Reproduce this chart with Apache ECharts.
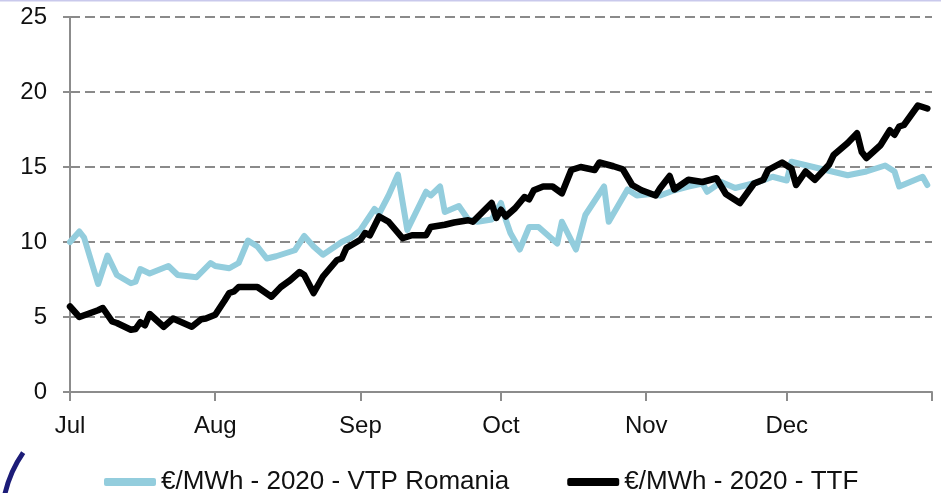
<!DOCTYPE html>
<html>
<head>
<meta charset="utf-8">
<style>
  html, body { margin: 0; padding: 0; background: #fff; }
  #chart { width: 941px; height: 493px; }
</style>
<script src="https://cdn.jsdelivr.net/npm/echarts@6/dist/echarts.min.js"></script>
</head>
<body>
<div id="chart"></div>
<script>
  // series names
  const vtpName = '€/MWh - 2020 - VTP Romania'
  const ttfName = '€/MWh - 2020 - TTF'

  // VTP Romania
  const vtpDates = ['2020-07-01','2020-07-03','2020-07-04','2020-07-07','2020-07-09','2020-07-11','2020-07-14','2020-07-15',
    '2020-07-16','2020-07-18','2020-07-22','2020-07-24','2020-07-28','2020-07-31','2020-08-01','2020-08-04','2020-08-06',
    '2020-08-08','2020-08-10','2020-08-12','2020-08-14','2020-08-18','2020-08-20','2020-08-22','2020-08-24','2020-08-28',
    '2020-08-30','2020-09-01','2020-09-04','2020-09-05','2020-09-07','2020-09-09','2020-09-11','2020-09-15','2020-09-16',
    '2020-09-18','2020-09-19','2020-09-22','2020-09-24','2020-09-26','2020-09-29','2020-10-01','2020-10-02','2020-10-03',
    '2020-10-05','2020-10-07','2020-10-09','2020-10-13','2020-10-14','2020-10-17','2020-10-19','2020-10-23','2020-10-24',
    '2020-10-28','2020-10-30','2020-11-02','2020-11-04','2020-11-07','2020-11-10','2020-11-13','2020-11-14','2020-11-17',
    '2020-11-20','2020-11-25','2020-11-28','2020-12-01','2020-12-02','2020-12-08','2020-12-14','2020-12-18','2020-12-22',
    '2020-12-24','2020-12-25','2020-12-30','2020-12-31']
  const vtpValues = [10.0, 10.7, 10.3, 7.2, 9.1, 7.8, 7.25, 7.35,
    8.2, 7.9, 8.4, 7.8, 7.65, 8.6, 8.4, 8.25, 8.6,
    10.1, 9.7, 8.9, 9.05, 9.45, 10.4, 9.7, 9.15, 10.0,
    10.3, 10.8, 12.2, 11.9, 13.1, 14.5, 10.8, 13.35, 13.1,
    13.7, 12.0, 12.4, 11.5, 11.35, 11.5, 12.6, 11.5, 10.6,
    9.5, 11.0, 11.0, 9.9, 11.35, 9.5, 11.8, 13.7, 11.35,
    13.5, 13.1, 13.2, 13.1, 13.45, 13.7, 13.9, 13.35, 14.0,
    13.6, 14.0, 14.35, 14.1, 15.35, 14.9, 14.45, 14.7, 15.1,
    14.7, 13.7, 14.35, 13.8]

  // TTF
  const ttfDates = ['2020-07-01','2020-07-03','2020-07-07','2020-07-08','2020-07-10','2020-07-11','2020-07-14','2020-07-15',
    '2020-07-16','2020-07-17','2020-07-18','2020-07-21','2020-07-23','2020-07-27','2020-07-29','2020-07-30','2020-08-01',
    '2020-08-03','2020-08-04','2020-08-05','2020-08-06','2020-08-10','2020-08-13','2020-08-15','2020-08-17','2020-08-19',
    '2020-08-20','2020-08-22','2020-08-24','2020-08-27','2020-08-28','2020-08-29','2020-09-01','2020-09-02','2020-09-03',
    '2020-09-05','2020-09-07','2020-09-10','2020-09-12','2020-09-15','2020-09-16','2020-09-19','2020-09-21','2020-09-24',
    '2020-09-25','2020-09-29','2020-09-30','2020-10-01','2020-10-02','2020-10-04','2020-10-06','2020-10-07','2020-10-08',
    '2020-10-10','2020-10-12','2020-10-14','2020-10-16','2020-10-18','2020-10-21','2020-10-22','2020-10-25','2020-10-27',
    '2020-10-29','2020-10-31','2020-11-03','2020-11-04','2020-11-06','2020-11-07','2020-11-10','2020-11-13','2020-11-16',
    '2020-11-18','2020-11-21','2020-11-24','2020-11-26','2020-11-27','2020-11-30','2020-12-02','2020-12-03','2020-12-05',
    '2020-12-07','2020-12-10','2020-12-11','2020-12-14','2020-12-16','2020-12-17','2020-12-18','2020-12-21','2020-12-23',
    '2020-12-24','2020-12-25','2020-12-26','2020-12-29','2020-12-30','2020-12-31']
  const ttfValues = [5.7, 5.0, 5.45, 5.6, 4.7, 4.6, 4.15, 4.2,
    4.65, 4.45, 5.2, 4.35, 4.9, 4.35, 4.85, 4.9, 5.15,
    6.1, 6.6, 6.7, 7.0, 7.0, 6.35, 7.0, 7.45, 8.0,
    7.8, 6.6, 7.7, 8.8, 8.9, 9.6, 10.15, 10.6, 10.45,
    11.7, 11.35, 10.25, 10.45, 10.45, 11.0, 11.15, 11.3, 11.45,
    11.35, 12.6, 11.6, 12.15, 11.7, 12.25, 13.0, 12.85, 13.45,
    13.7, 13.7, 13.25, 14.8, 15.0, 14.8, 15.3, 15.05, 14.85,
    13.8, 13.45, 13.1, 13.6, 14.4, 13.5, 14.15, 14.0, 14.25,
    13.2, 12.6, 13.9, 14.15, 14.8, 15.3, 14.9, 13.8, 14.7,
    14.15, 15.15, 15.8, 16.6, 17.25, 16.0, 15.6, 16.45, 17.45,
    17.15, 17.7, 17.8, 19.1, 19.0, 18.9]

  // axis ticks / labels
  const monthStarts = ['2020-07-01','2020-08-01','2020-09-01','2020-10-01','2020-11-01','2020-12-01','2021-01-01']
  const monthLabels = ['Jul','Aug','Sep','Oct','Nov','Dec']
  const yTicks = [0, 5, 10, 15, 20, 25]

  const toTime = function(s) {
    const p = s.split('-')
    return Date.UTC(+p[0], +p[1] - 1, +p[2])
  }
  const pairs = function(dates, values) {
    return dates.map(function(d, i) { return [toTime(d), values[i]] })
  }
  const tickTimes = monthStarts.map(toTime)
  const labelTimes = tickTimes.slice(0, monthLabels.length)

  const font = "'Liberation Sans', Arial, sans-serif"
  const axisGrey = '#8c8c8c'

  const chart = echarts.init(document.getElementById('chart'), null, { renderer: 'canvas' })
  chart.setOption({
    animation: false,
    textStyle: { fontFamily: font },
    grid: { left: 70, right: 9, top: 17, bottom: 101, containLabel: false },
    legend: {
      left: 99,
      top: 464,
      icon: 'roundRect',
      itemWidth: 52,
      itemHeight: 8,
      itemGap: 58,
      textStyle: { fontFamily: font, fontSize: 26, color: '#111' },
      data: [vtpName, ttfName]
    },
    xAxis: {
      type: 'value',
      min: tickTimes[0],
      max: tickTimes[tickTimes.length - 1],
      axisLine: { lineStyle: { color: axisGrey, width: 2 } },
      axisTick: { show: true, length: 9, lineStyle: { color: axisGrey, width: 2 }, customValues: tickTimes },
      axisLabel: {
        customValues: labelTimes,
        margin: 22,
        fontSize: 24,
        color: '#111',
        fontFamily: font,
        formatter: function(v) {
          const i = labelTimes.indexOf(v)
          return i >= 0 ? monthLabels[i] : ''
        }
      },
      splitLine: { show: false }
    },
    yAxis: {
      type: 'value',
      min: yTicks[0],
      max: yTicks[yTicks.length - 1],
      interval: 5,
      axisLine: { show: true, lineStyle: { color: axisGrey, width: 2 } },
      axisTick: { show: true, length: 7, lineStyle: { color: axisGrey, width: 2 } },
      axisLabel: { margin: 23, fontSize: 24, color: '#111', fontFamily: font },
      splitLine: { lineStyle: { color: '#8a8a8a', width: 2, type: [10, 5] } }
    },
    series: [
      {
        name: vtpName,
        type: 'line',
        showSymbol: false,
        color: '#93cddd',
        lineStyle: { width: 6, join: 'round', cap: 'round' },
        data: pairs(vtpDates, vtpValues)
      },
      {
        name: ttfName,
        type: 'line',
        showSymbol: false,
        color: '#000000',
        lineStyle: { width: 6.5, join: 'round', cap: 'round' },
        data: pairs(ttfDates, ttfValues)
      }
    ],
    graphic: [
      // slide decoration: thin top rule and the navy arc in the bottom-left corner
      { type: 'line', shape: { x1: 0, y1: 0.5, x2: 941, y2: 0.5 }, style: { stroke: '#c9c9ec', lineWidth: 2 }, silent: true },
      { type: 'arc', shape: { cx: 120, cy: 520, r: 118, startAngle: 3.36, endAngle: 3.75, clockwise: true },
        style: { stroke: '#1c1c78', lineWidth: 5, fill: null }, silent: true }
    ]
  })
</script>
</body>
</html>
